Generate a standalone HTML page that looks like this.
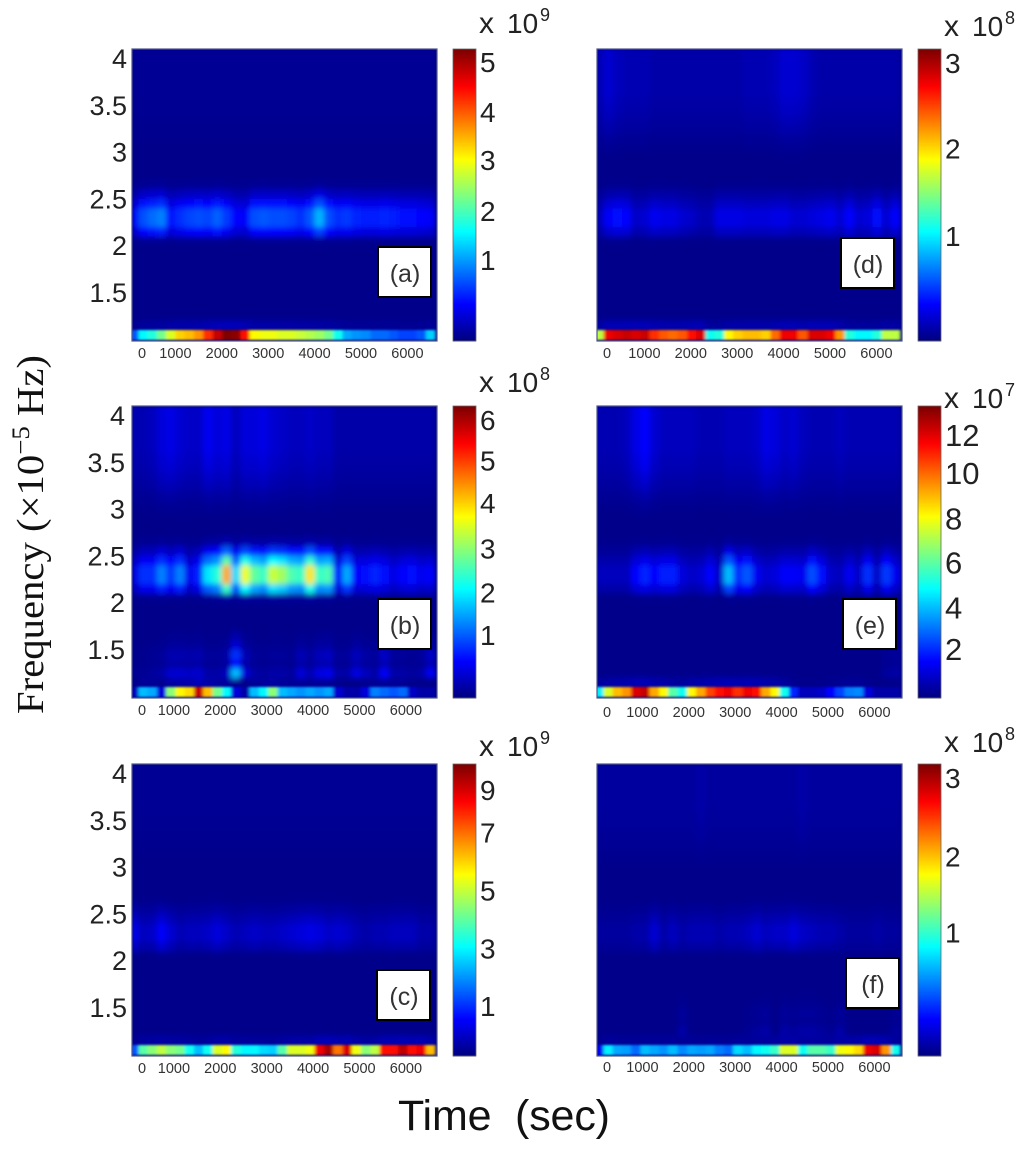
<!DOCTYPE html>
<html lang="en">
<head>
<meta charset="utf-8">
<title>Time-frequency spectrograms (a)-(f)</title>
<style>
html,body{margin:0;padding:0;background:#fff;}
svg{display:block;}
text{font-family:"Liberation Sans",Arial,sans-serif;}
</style>
</head>
<body>
<svg id="figure" xmlns="http://www.w3.org/2000/svg" width="1024" height="1149" viewBox="0 0 1024 1149">
<defs>
<filter id="soft-low" x="-5%" y="-20%" width="110%" height="140%"><feGaussianBlur stdDeviation="1.5 1.1"/></filter>
<filter id="soft" x="-5%" y="-5%" width="110%" height="110%"><feGaussianBlur stdDeviation="2.6 2.8"/></filter>
</defs>
<text transform="translate(43,714) rotate(-90)" style="font-family:'Liberation Serif',serif;font-size:38px" fill="#111" textLength="359" lengthAdjust="spacingAndGlyphs">Frequency (×10<tspan font-size="25" dy="-14">−5</tspan><tspan dy="14"> Hz)</tspan></text>
<text x="398" y="1130" font-size="43" fill="#111" textLength="212" lengthAdjust="spacing" xml:space="preserve">Time  (sec)</text>
</svg>
<script>
// Shared axis values
const yTickValues = [4, 3.5, 3, 2.5, 2, 1.5];
const xTickValues = [0, 1000, 2000, 3000, 4000, 5000, 6000];
const freqRowStart = [1.0,1.1,1.2,1.3,1.4,1.5,1.6,1.7,1.8,1.9,2.0,2.1,2.2,2.3,2.4,2.5,2.6,2.7,2.8,2.9,3.0,3.1,3.2,3.3,3.4,3.5,3.6,3.7,3.8,3.9,4.0];
const timeBinStart = [0,200,400,600,800,1000,1200,1400,1600,1800,2000,2200,2400,2600,2800,3000,3200,3400,3600,3800,4000,4200,4400,4600,4800,5000,5200,5400,5600,5800,6000,6200,6400];

// Vertical weight of each frequency band per row
const lowProfile   = [1,.05,0,0,0,0,0,0,0,0,0,0,0,0,0,0,0,0,0,0,0,0,0,0,0,0,0,0,0,0,0];
const speckProfile = [0,0,1,.4,.55,.25,.1,0,0,0,0,0,0,0,0,0,0,0,0,0,0,0,0,0,0,0,0,0,0,0,0];
const midProfile   = [0,0,0,0,0,0,0,0,0,0,.03,.6,1,1,.65,.3,.05,0,0,0,0,0,0,0,0,0,0,0,0,0,0];
const highProfile  = [0,0,0,0,0,0,0,0,0,0,0,0,0,0,0,0,0,0,0,.05,.15,.3,.5,.65,.8,.9,1,1,1,1,1];

// Panel (a)
const lowA = [.2,.36,.4,.48,.58,.66,.68,.72,.82,.92,1,.98,.85,.62,.6,.6,.58,.58,.56,.54,.52,.48,.38,.28,.26,.25,.22,.22,.2,.18,.18,.2,.32];
const midA = [.1,.19,.22,.24,.13,.16,.18,.19,.18,.21,.17,.12,.11,.19,.2,.19,.19,.18,.16,.2,.29,.19,.16,.17,.15,.14,.14,.15,.14,.13,.13,.12,.11];
const highA = [.01,.01,.01,.01,.01,.01,.01,.01,.01,.01,.01,.01,.01,.01,.01,.01,.01,.01,.01,.01,.01,.01,.01,.01,.01,.01,.01,.01,.01,.01,.01,.01,.01];
const speckA = [0,0,0,0,0,0,0,0,0,0,0,0,0,0,0,0,0,0,0,0,0,0,0,0,0,0,0,0,0,0,0,0,0];
// Panel (b)
const lowB = [.05,.3,.28,.08,.5,.62,.65,.92,.68,.48,.36,.08,.03,.3,.36,.5,.3,.28,.26,.28,.26,.28,.07,.03,.03,.08,.24,.22,.2,.22,.06,.03,.03];
const midB = [.08,.16,.16,.24,.17,.24,.1,.15,.34,.4,.7,.33,.6,.46,.42,.56,.52,.44,.42,.64,.42,.44,.12,.28,.12,.13,.15,.13,.09,.12,.13,.1,.11];
const highB = [.04,.04,.05,.08,.09,.07,.06,.06,.1,.08,.09,.05,.08,.08,.09,.07,.06,.05,.05,.06,.05,.05,.03,.03,.03,.03,.03,.03,.03,.03,.03,.03,.03];
const speckB = [.01,.01,.02,.03,.07,.07,.06,.07,.03,.03,.05,.3,.08,.03,.02,.03,.03,.02,.08,.04,.09,.1,.03,.03,.09,.05,.03,.11,.03,.03,.02,.03,.11];
// Panel (c)
const lowC = [.2,.45,.5,.55,.5,.48,.38,.3,.38,.58,.62,.4,.36,.36,.33,.32,.45,.58,.58,.6,.88,.95,.75,.9,.6,.5,.55,.85,.85,.93,.85,.88,.68];
const midC = [.09,.05,.06,.11,.07,.04,.05,.05,.06,.08,.06,.04,.05,.06,.05,.05,.06,.07,.08,.09,.08,.06,.07,.06,.04,.03,.04,.04,.05,.05,.05,.03,.03];
const highC = [.01,.01,.01,.01,.01,.01,.01,.01,.01,.01,.01,.01,.01,.01,.01,.01,.01,.01,.01,.01,.01,.01,.01,.01,.01,.01,.01,.01,.01,.01,.01,.01,.01];
const speckC = [0,0,0,0,0,0,0,0,0,0,0,0,0,0,0,0,0,0,0,0,0,0,0,0,0,0,0,0,0,0,0,0,0];
// Panel (d)
const lowD = [.55,.88,.9,.92,.9,.92,.82,.78,.76,.78,.85,.9,.38,.4,.62,.66,.68,.68,.66,.76,.88,.88,.78,.9,.9,.88,.72,.4,.36,.36,.4,.55,.55];
const midD = [.04,.11,.13,.12,.06,.07,.1,.09,.09,.07,.06,.04,.04,.09,.09,.09,.08,.08,.08,.09,.09,.07,.07,.08,.09,.1,.07,.12,.07,.08,.13,.07,.12];
const highD = [.04,.07,.05,.04,.04,.04,.03,.03,.03,.03,.03,.03,.03,.03,.03,.03,.04,.04,.04,.05,.07,.07,.06,.04,.03,.03,.03,.03,.03,.03,.03,.03,.03];
const speckD = [0,0,0,0,0,0,0,0,0,0,0,0,0,0,0,0,0,0,0,0,0,0,0,0,0,0,0,0,0,0,0,0,0];
// Panel (e)
const lowE = [.35,.58,.68,.72,.9,.92,.7,.62,.45,.38,.62,.7,.8,.85,.88,.82,.88,.85,.7,.62,.38,.15,.05,.05,.06,.12,.18,.24,.25,.08,.03,.03,.03];
const midE = [.05,.05,.05,.05,.12,.15,.12,.14,.14,.08,.06,.07,.12,.06,.3,.16,.2,.1,.07,.08,.11,.11,.1,.19,.13,.06,.05,.1,.06,.16,.06,.17,.1];
const highE = [.04,.04,.04,.05,.09,.12,.07,.05,.05,.05,.05,.04,.04,.04,.05,.05,.05,.06,.09,.08,.06,.07,.05,.04,.04,.04,.05,.04,.04,.04,.04,.04,.04];
const speckE = [0,0,0,0,0,0,0,0,0,0,0,0,0,0,0,0,0,0,0,0,0,0,0,0,0,0,0,0,0,0,0,.02,.03];
// Panel (f)
const lowF = [.1,.35,.28,.27,.22,.3,.28,.26,.3,.25,.28,.27,.28,.24,.22,.33,.3,.36,.38,.42,.58,.58,.38,.45,.45,.42,.6,.62,.65,.88,.9,.72,.38];
const midF = [.02,.02,.02,.02,.03,.03,.07,.03,.05,.03,.04,.04,.04,.03,.04,.04,.05,.07,.05,.06,.06,.08,.06,.05,.04,.04,.03,.02,.02,.02,.03,.02,.02];
const highF = [.02,.02,.02,.02,.02,.02,.02,.02,.02,.02,.02,.03,.02,.02,.02,.02,.02,.02,.02,.02,.02,.02,.03,.02,.02,.02,.02,.02,.02,.02,.02,.02,.02];
const speckF = [0,0,0,0,0,0,0,0,0,.03,0,0,0,0,0,0,.01,.02,.03,0,.03,.02,.03,.03,.02,.01,.03,0,0,0,0,0,.02];

// Colour-bar tick labels and the colour level each one sits at
const cbLabelsA = ['5','4','3','2','1'];
const cbLevelsA = [.955,.784,.62,.445,.277];
const cbLabelsB = ['6','5','4','3','2','1'];
const cbLevelsB = [.952,.814,.667,.512,.361,.216];
const cbLabelsC = ['9','7','5','3','1'];
const cbLevelsC = [.911,.766,.567,.368,.172];
const cbLabelsD = ['3','2','1'];
const cbLevelsD = [.952,.66,.36];
const cbLabelsE = ['12','10','8','6','4','2'];
const cbLevelsE = [.9,.77,.615,.464,.31,.168];
const cbLabelsF = ['3','2','1'];
const cbLevelsF = [.952,.684,.423];

const panels = [
 {id:'a',left:132,top:49,low:lowA,mid:midA,high:highA,speck:speckA,cbL:cbLabelsA,cbV:cbLevelsA,exp:'9',expY:33,tickDx:0,tickY:358,boxX:378,boxY:247,yTickDx:0},
 {id:'b',left:132,top:406,low:lowB,mid:midB,high:highB,speck:speckB,cbL:cbLabelsB,cbV:cbLevelsB,exp:'8',expY:392,tickDx:-1.5,tickY:715,boxX:378,boxY:599,yTickDx:-2},
 {id:'c',left:132,top:764,low:lowC,mid:midC,high:highC,speck:speckC,cbL:cbLabelsC,cbV:cbLevelsC,exp:'9',expY:756,tickDx:-1.5,tickY:1073,boxX:377,boxY:970,yTickDx:0},
 {id:'d',left:597,top:49,low:lowD,mid:midD,high:highD,speck:speckD,cbL:cbLabelsD,cbV:cbLevelsD,exp:'8',expY:36,tickDx:4,tickY:358,boxX:841,boxY:238,yTickDx:0},
 {id:'e',left:597,top:406,low:lowE,mid:midE,high:highE,speck:speckE,cbL:cbLabelsE,cbV:cbLevelsE,exp:'7',expY:408,tickDx:2,tickY:717,boxX:843,boxY:599,yTickDx:0},
 {id:'f',left:597,top:764,low:lowF,mid:midF,high:highF,speck:speckF,cbL:cbLabelsF,cbV:cbLevelsF,exp:'8',expY:752,tickDx:2,tickY:1072,boxX:846,boxY:958,yTickDx:0}
];

const NS = 'http://www.w3.org/2000/svg';
const svg = document.getElementById('figure');
const PLOT_W = 305, PLOT_H = 292, PX_PER_SEC = 0.0464, PX_PER_FREQ = 94;

function jet(level){
  const v = Math.max(0, Math.min(1, level));
  const ch = c => Math.round(255 * Math.max(0, Math.min(1, 1.5 - Math.abs(4 * v - c))));
  return 'rgb(' + ch(3) + ',' + ch(2) + ',' + ch(1) + ')';
}
function textEl(parent, x, y, str, size, fill, anchor){
  const t = document.createElementNS(NS, 'text');
  t.setAttribute('x', x);
  t.setAttribute('y', y);
  t.setAttribute('font-size', size);
  t.setAttribute('fill', fill);
  if (anchor) t.setAttribute('text-anchor', anchor);
  t.textContent = str;
  parent.appendChild(t);
  return t;
}

panels.forEach(function(p){
  const xScale = t => p.left - 3 + PX_PER_SEC * t;
  const yScale = f => p.top + PLOT_H - 1.5 - (f - 1) * PX_PER_FREQ;

  const g = document.createElementNS(NS, 'g');
  
  
  svg.appendChild(g);

  // clip
  const clip = document.createElementNS(NS, 'clipPath');
  clip.setAttribute('id', 'clip-' + p.id);
  const clipRect = document.createElementNS(NS, 'rect');
  clipRect.setAttribute('x', p.left);
  clipRect.setAttribute('y', p.top);
  clipRect.setAttribute('width', PLOT_W);
  clipRect.setAttribute('height', PLOT_H);
  clip.appendChild(clipRect);
  g.appendChild(clip);

  const clipped = document.createElementNS(NS, 'g');
  clipped.setAttribute('clip-path', 'url(#clip-' + p.id + ')');
  g.appendChild(clipped);

  const base = document.createElementNS(NS, 'rect');
  
  
  base.setAttribute('x', p.left);
  base.setAttribute('y', p.top);
  base.setAttribute('width', PLOT_W);
  base.setAttribute('height', PLOT_H);
  base.setAttribute('fill', jet(0.01));
  clipped.appendChild(base);

  // heatmap cells: upper rows get a wider blur than the narrow bottom band
  const upperCells = document.createElementNS(NS, 'g');
  
  
  upperCells.setAttribute('filter', 'url(#soft)');
  upperCells.setAttribute('shape-rendering', 'crispEdges');
  clipped.appendChild(upperCells);
  const lowCells = document.createElementNS(NS, 'g');
  
  
  lowCells.setAttribute('filter', 'url(#soft-low)');
  lowCells.setAttribute('shape-rendering', 'crispEdges');
  clipped.appendChild(lowCells);
  freqRowStart.forEach(function(f, r){
    timeBinStart.forEach(function(t, c){
      const level = 0.01 + p.low[c] * lowProfile[r] + p.speck[c] * speckProfile[r] + p.mid[c] * midProfile[r] + p.high[c] * highProfile[r];
      if (level <= 0.012) return;
      const cell = document.createElementNS(NS, 'rect');
      
      
      const x0 = xScale(t), x1 = xScale(t + 200), y1 = yScale(f), y0 = yScale(f + 0.1);
      cell.setAttribute('x', x0.toFixed(2));
      cell.setAttribute('y', y0.toFixed(2));
      cell.setAttribute('width', (x1 - x0 + 0.4).toFixed(2));
      cell.setAttribute('height', (y1 - y0 + 0.4).toFixed(2));
      cell.setAttribute('fill', jet(level));
      (r < 1 ? lowCells : upperCells).appendChild(cell);
    });
  });

  // plot frame
  const frame = document.createElementNS(NS, 'rect');
  
  
  frame.setAttribute('x', p.left);
  frame.setAttribute('y', p.top);
  frame.setAttribute('width', PLOT_W);
  frame.setAttribute('height', PLOT_H);
  frame.setAttribute('fill', 'none');
  frame.setAttribute('stroke', '#50568a');
  frame.setAttribute('stroke-width', '1.2');
  g.appendChild(frame);

  // x ticks
  xTickValues.forEach(function(v){
    const x = Math.max(xScale(v) + p.tickDx, p.left + 10);
    const t = textEl(g, x, p.tickY, String(v), 14.5, '#333', 'middle');
    
    
  });

  // y ticks (left column only)
  if (p.left < 300) {
    yTickValues.forEach(function(v){
      const y = p.top + 19 + (4 - v) * 93.5;
      const t = textEl(g, 127 + p.yTickDx, y, String(v), 27, '#222', 'end');
      
      
    });
  }

  // colour bar
  const cbX = p.left + 321;
  const cb = document.createElementNS(NS, 'g');
  
  
  cb.setAttribute('shape-rendering', 'crispEdges');
  g.appendChild(cb);
  const steps = 146;
  for (let i = 0; i < steps; i++) {
    const s = document.createElementNS(NS, 'rect');
    
    
    s.setAttribute('x', cbX);
    s.setAttribute('y', p.top + PLOT_H - (i + 1) * PLOT_H / steps);
    s.setAttribute('width', 23);
    s.setAttribute('height', PLOT_H / steps + 0.5);
    s.setAttribute('fill', jet(i / (steps - 1)));
    cb.appendChild(s);
  }
  const cbFrame = document.createElementNS(NS, 'rect');
  
  
  cbFrame.setAttribute('x', cbX);
  cbFrame.setAttribute('y', p.top);
  cbFrame.setAttribute('width', 23);
  cbFrame.setAttribute('height', PLOT_H);
  cbFrame.setAttribute('fill', 'none');
  cbFrame.setAttribute('stroke', '#666');
  cbFrame.setAttribute('stroke-width', '0.8');
  g.appendChild(cbFrame);

  const big = p.id === 'e';
  p.cbL.forEach(function(label, i){
    const y = p.top + PLOT_H - p.cbV[i] * PLOT_H + 10;
    const t = textEl(g, cbX + 27, y + (big ? 1 : 0), label, big ? 31 : 28, '#222');
    
    
  });

  // multiplier
  const mult = textEl(g, cbX + 26, p.expY, 'x', 30, '#222');
  
  
  const ten = textEl(g, cbX + 54, p.expY, '10', 28, '#222');
  
  
  const exp = textEl(g, cbX + 87, p.expY - 12, p.exp, 18, '#222');
  
  

  // panel label box
  const box = document.createElementNS(NS, 'rect');
  
  
  box.setAttribute('x', p.boxX);
  box.setAttribute('y', p.boxY);
  box.setAttribute('width', 53);
  box.setAttribute('height', 50);
  box.setAttribute('fill', '#fff');
  box.setAttribute('stroke', '#000');
  box.setAttribute('stroke-width', '2');
  g.appendChild(box);
  const lab = textEl(g, p.boxX + 27, p.boxY + 35, '(' + p.id + ')', 25, '#333', 'middle');
  
  
});
</script>
</body>
</html>
